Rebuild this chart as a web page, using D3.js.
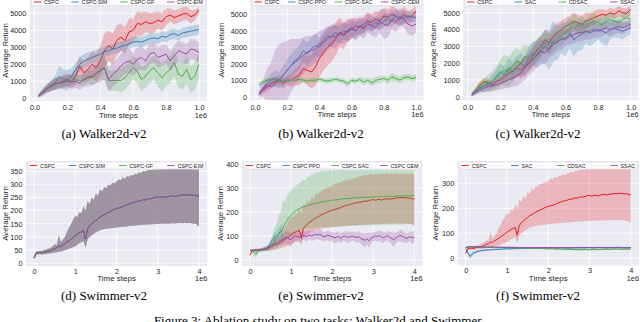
<!DOCTYPE html>
<html><head><meta charset="utf-8">
<script src="https://cdn.jsdelivr.net/npm/d3@7"></script>
<style>body{margin:0;background:#fff}svg{display:block}</style>
</head><body>
<svg id="c" width="640" height="322"></svg>
<script>
// ---------------- DATA ----------------
const walkerSteps = [0.025,0.05,0.075,0.1,0.125,0.15,0.175,0.2,0.225,0.25,0.275,0.3,0.325,0.35,0.375,0.4,0.425,0.45,0.475,0.5,0.525,0.55,0.575,0.6,0.625,0.65,0.675,0.7,0.725,0.75,0.775,0.8,0.825,0.85,0.875,0.9,0.925,0.95,0.975,1.0];
const swimSteps = [0,0.05,0.1,0.15,0.2,0.25,0.3,0.35,0.4,0.45,0.5,0.55,0.6,0.65,0.7,0.75,0.8,0.85,0.9,0.95,1,1.05,1.1,1.15,1.2,1.25,1.3,1.35,1.4,1.45,1.5,1.55,1.6,1.65,1.7,1.75,1.8,1.85,1.9,1.95,2,2.05,2.1,2.15,2.2,2.25,2.3,2.35,2.4,2.45,2.5,2.55,2.6,2.65,2.7,2.75,2.8,2.85,2.9,2.95,3,3.05,3.1,3.15,3.2,3.25,3.3,3.35,3.4,3.45,3.5,3.55,3.6,3.65,3.7,3.75,3.8,3.85,3.9,3.95,4];
const swimCoarseSteps = [0,0.1,0.2,0.3,0.4,0.5,0.6,0.7,0.8,0.9,1,1.1,1.2,1.3,1.4,1.5,1.6,1.7,1.8,1.9,2,2.1,2.2,2.3,2.4,2.5,2.6,2.7,2.8,2.9,3,3.1,3.2,3.3,3.4,3.5,3.6,3.7,3.8,3.9,4];
const ppoSteps = [0,0.05,0.1,0.15,0.2,0.25,0.3,0.35,0.4,0.45,0.5,0.55,0.6,0.65,0.7,0.75,0.8];

const legendA = ["CSPC","CSPC-SIM","CSPC-GF","CSPC-EIM"];
const legendB = ["CSPC","CSPC-PPO","CSPC-SAC","CSPC-CEM"];
const legendC = ["CSPC","SAC","CDSAC","SSAC"];
const legendE = ["CSPC","CSPC PPO","CSPC SAC","CSPC CEM"];
const captions = ["(a) Walker2d-v2","(b) Walker2d-v2","(c) Walker2d-v2","(d) Swimmer-v2","(e) Swimmer-v2","(f) Swimmer-v2"];
const figCaption = "Figure 3: Ablation study on two tasks: Walker2d and Swimmer.";
const walkerYTicks = [0,1000,2000,3000,4000,5000];
const walkerXTicks = [0,0.2,0.4,0.6,0.8,1.0];
const swimXTicks = [0,1,2,3,4];
const swimYTicksD = [0,50,100,150,200,250,300,350];
const swimYTicksE = [0,100,200,300,400];
const swimYTicksF = [0,100,200,300];

// (a) Walker2d
const aCspcMean = [150,350,550,700,850,900,1050,1100,1000,1300,1900,1500,1700,2000,1800,2200,2800,3100,2900,3400,3600,3400,3900,4000,4400,4350,4500,4400,4450,4600,4500,4800,4900,4750,4850,4950,5000,4800,4900,5200];
const aCspcSpread = [100,150,200,250,300,300,350,350,400,500,600,600,700,800,800,900,1000,900,900,900,800,800,800,700,700,700,600,600,600,500,500,500,400,400,400,400,400,400,300,200];
const aSimMean = [150,350,550,750,900,1300,1100,1050,1300,1700,2000,2200,2300,2400,2500,2600,2750,2800,2900,2950,3050,3100,3200,3300,3350,3300,3400,3500,3550,3500,3650,3600,3750,3800,3700,3850,3900,3950,4000,4050];
const aSimSpread = [80,150,200,300,400,600,600,600,450,400,400,400,400,350,350,350,300,300,300,300,300,300,300,300,300,300,300,300,300,300,300,300,300,300,300,300,300,300,300,300];
const aGfMean = [150,400,600,750,850,900,950,1000,1050,1100,1050,1100,1300,1200,1400,1700,1800,1050,1050,1050,1050,1200,1500,1800,1600,1100,1300,1600,1800,1500,1200,1500,1700,2100,1400,1300,1700,1100,1300,2000];
const aGfSpread = [100,200,250,300,350,350,300,300,300,300,300,350,400,400,500,600,700,600,600,600,700,700,700,700,700,700,700,700,700,800,800,800,800,800,800,800,800,800,800,800];
const aEimMean = [150,350,550,700,850,900,950,1000,950,1000,900,1100,1200,1300,1500,1600,1800,1100,1400,1600,1900,2100,2200,2000,2300,2400,2200,2600,2700,2400,2500,2600,2200,2500,2800,2700,2600,2900,2850,2700];
const aEimSpread = [100,200,250,300,350,350,350,350,400,400,400,450,500,550,600,650,700,700,700,700,700,700,700,700,700,700,600,600,600,600,600,600,600,600,600,600,600,600,600,600];

// (b) Walker2d
const bCspcMean = [150,400,600,800,900,1000,800,1000,1000,1200,1300,1700,1600,1500,1800,2300,2700,3000,3200,3500,3900,3700,4000,4100,4300,4200,4400,4600,4500,4700,4600,4900,4800,5000,4900,4700,5000,4800,4900,5200];
const bCspcSpread = [100,200,300,300,300,300,300,300,400,500,600,800,900,1000,1100,1100,1100,1100,1100,1000,900,800,700,600,500,500,500,500,500,500,500,500,500,500,500,500,500,400,400,300];
const bPpoMean = [200,500,800,1000,1100,1000,1300,1600,1900,2200,2400,2800,2600,2900,3100,3000,3400,3700,3600,3900,3700,4000,3900,4100,4000,4300,4200,4400,4300,4500,4400,4600,4700,4600,4900,4700,4800,4900,4850,4800];
const bPpoSpread = [100,200,300,400,500,500,600,700,700,700,700,700,700,700,700,600,600,600,600,500,500,500,500,500,500,400,400,400,400,400,400,400,400,400,400,400,400,300,300,300];
const bSacMean = [700,900,1000,1050,1000,950,1000,950,1000,1000,1050,1000,950,1000,1000,1050,1000,950,1000,1050,1000,950,800,1000,950,1050,900,1000,850,1000,1050,1100,1000,1200,1100,1000,1150,1200,1100,1150];
const bSacSpread = [150,150,150,100,150,150,150,150,150,150,150,150,150,150,150,150,150,150,150,150,150,150,200,150,150,150,200,150,200,200,200,200,200,250,200,200,200,200,200,200];
const bCemMean = [150,500,700,600,800,1000,1300,1600,1900,2100,2300,2500,2700,2800,2900,3200,3300,3500,3700,3600,3900,3800,4000,4200,4000,4300,4100,4500,4300,4200,4600,4400,4300,4700,4500,4900,4700,4400,4300,4400];
const bCemSpread = [200,500,1000,1500,2000,2200,2000,1800,1600,1400,1200,1100,1000,900,900,800,800,700,700,700,600,600,600,600,600,600,600,600,600,600,700,900,700,600,600,500,500,600,600,500];

// (c) Walker2d
const cCspcMean = [150,400,700,900,850,700,900,1000,1200,1400,1500,1700,1600,1800,2000,2400,2800,3000,3400,3200,3600,3800,4000,4200,4300,4500,4400,4300,4500,4600,4700,4800,4900,4850,5000,4900,5100,5000,4950,5200];
const cCspcSpread = [100,150,200,200,200,200,300,300,300,400,400,500,500,500,500,600,600,600,600,600,600,600,500,500,500,500,500,500,500,400,400,400,300,300,300,300,300,300,300,300];
const cSacMean = [100,300,500,600,700,900,1200,1500,1300,1700,1500,1800,2000,1800,2300,2600,2500,2800,3000,2800,3300,3200,3500,3400,3800,3400,3600,3700,3900,3800,3900,4000,3900,3800,4000,4050,4000,3900,4000,4100];
const cSacSpread = [100,150,200,300,300,400,400,500,500,600,600,600,600,600,700,700,800,900,1000,1200,1200,1000,900,1000,900,1000,900,900,700,800,700,600,700,800,600,500,500,500,400,400];
const cCdsacMean = [150,400,600,700,800,900,1100,1400,1600,1500,1800,2100,2000,2400,2300,2500,2700,3000,3200,3100,3300,3500,3600,3800,4000,4400,4200,4300,4100,4400,4500,4400,4300,4500,4600,4500,4400,4600,4700,4600];
const cCdsacSpread = [100,200,300,400,500,600,700,800,900,900,900,800,800,700,700,700,700,600,600,600,600,600,500,500,500,500,500,500,500,500,500,400,400,400,400,400,400,400,400,400];
const cSsacMean = [100,250,400,500,600,650,700,800,900,1000,1100,1200,1400,1700,2000,2200,2500,2700,2600,2900,3100,3300,3400,3500,3600,3700,3800,3800,3900,3900,4000,3900,4000,4100,4000,4100,4200,4100,4200,4300];
const cSsacSpread = [100,150,200,250,300,300,300,400,400,500,500,600,600,700,700,700,700,700,700,600,600,600,600,500,500,500,500,500,500,500,500,400,400,400,400,400,400,400,300,300];

// Swimmer: CSPC (shared by d, e, f)
const swCspcMean = [20,38,40,41,40,43,44,46,47,52,56,58,66,63,70,75,80,86,92,98,105,110,116,119,124,92,132,142,150,157,163,170,174,180,184,190,193,197,201,205,208,210,212,215,218,222,225,228,230,232,235,237,238,242,240,244,246,245,248,250,252,249,251,253,250,252,254,256,253,255,256,258,260,258,261,259,260,257,259,254,255];
const swCspcHi = [25,45,46,48,47,50,52,55,58,64,72,68,105,80,90,100,120,135,150,165,180,175,195,190,215,200,235,225,250,240,265,255,280,272,288,285,298,296,305,303,310,318,315,325,320,330,328,335,332,340,338,345,342,350,348,352,355,353,356,355,358,356,358,357,359,358,360,359,358,360,359,360,358,359,360,358,359,360,358,359,360];
const swCspcLo = [15,32,34,34,33,35,36,37,37,39,40,42,44,45,47,50,52,55,58,62,65,70,76,80,85,60,92,100,106,112,118,122,125,128,130,131,132,133,134,135,136,137,138,139,139,140,141,142,142,143,144,144,145,146,146,147,147,148,148,149,149,150,150,150,151,150,151,152,151,152,152,153,152,153,152,153,152,151,150,147,140];

// (e) Swimmer
const ePpoMean = [40,38,40,40,42,42,43,45,48,55,70,85,95,100,110,120,125];
const ePpoSpread = [3,4,4,4,5,5,5,6,8,10,14,18,20,22,24,26,28];
const eSacMean = [38,40,30,25,38,40,42,44,45,48,55,65,80,90,105,118,132,150,165,178,187,195,203,208,214,218,222,225,228,230,232,235,236,238,240,242,243,245,246,248,249,250,252,251,253,255,254,256,257,256,258,259,260,259,261,260,262,261,262,263,262,263,264,263,265,264,265,266,265,266,265,266,267,266,267,268,267,268,267,268,270];
const eSacHi = [45,48,42,40,45,48,50,53,56,62,75,100,140,150,185,200,250,240,270,280,290,300,305,315,320,325,335,330,350,345,360,355,368,362,370,372,368,375,370,376,372,375,370,376,373,378,372,375,371,377,374,372,376,373,378,374,371,376,373,377,372,375,378,373,376,372,377,374,371,376,373,378,374,371,376,373,377,372,375,373,376];
const eSacLo = [32,33,15,12,30,33,35,36,36,38,40,42,45,50,55,62,70,80,90,98,104,110,115,118,122,125,127,129,131,132,133,134,135,136,136,137,137,138,138,139,139,140,140,140,141,141,141,142,142,142,143,143,143,144,144,144,144,145,145,145,145,146,146,146,146,147,147,147,147,148,148,148,148,148,149,149,149,149,150,150,150];
const eCemMean = [40,40,41,42,42,43,44,45,46,50,55,60,68,72,78,82,88,92,95,88,84,95,100,98,94,100,102,98,100,104,100,103,106,104,108,102,97,100,103,99,98,92,95,98,90,96,100,97,94,98,100,96,94,97,90,85,82,88,80,92,96,100,98,102,97,93,98,101,96,90,84,92,98,102,100,95,90,94,98,92,96];
const eCemSpread = [3,3,3,4,4,4,5,5,6,8,10,12,14,16,18,20,22,24,25,28,30,22,20,24,22,20,18,20,22,18,20,22,18,20,24,22,20,18,22,20,18,22,24,20,22,18,20,22,24,20,18,22,20,24,22,26,28,24,30,22,20,18,22,20,24,22,18,20,22,26,28,22,20,24,26,22,20,18,22,24,26];

// (f) Swimmer
const fSacMean = [38,8,22,28,31,33,34,35,36,37,38,38,39,39,40,40,40,41,40,41,41,42,41,42,42,41,42,42,43,42,43,42,43,43,42,43,43,44,43,43,43];
const fSacSpread = [3,10,7,5,4,4,3,3,3,3,3,3,3,3,3,3,3,3,3,3,3,3,3,3,3,3,3,3,3,3,3,3,3,3,3,3,3,3,3,3,3];
const fCdsacMean = [42,46,45,45,44,44,44,43,43,43,42,42,42,41,41,41,40,40,40,39,38,38,37,37,36,36,35,35,34,35,34,35,35,36,36,36,37,37,36,37,37];
const fCdsacSpread = [3,3,3,3,3,3,3,3,3,3,3,3,3,3,3,3,3,3,3,3,3,3,3,3,3,3,3,3,3,3,3,3,3,3,3,3,3,3,3,3,3];
const fSsacMean = [44,47,46,46,45,45,45,45,44,44,44,44,44,43,43,43,43,43,43,43,43,43,42,43,43,42,43,43,42,43,43,42,43,43,42,43,42,43,42,42,42];
const fSsacSpread = [2.5,2.5,2.5,2.5,2.5,2.5,2.5,2.5,2.5,2.5,2.5,2.5,2.5,2.5,2.5,2.5,2.5,2.5,2.5,2.5,2.5,2.5,2.5,2.5,2.5,2.5,2.5,2.5,2.5,2.5,2.5,2.5,2.5,2.5,2.5,2.5,2.5,2.5,2.5,2.5,2.5];

// ---------------- STYLE / LAYOUT ----------------
const COLORS = ["#e41a1c","#377eb8","#4daf4a","#984ea3"];
const SANS = "'Liberation Sans', Arial, sans-serif";
const SERIF = "'Liberation Serif', 'Times New Roman', serif";
const TXT = "#262626";

const wfmt = d3.format(".1f"), sfmt = d3.format("d");
const S = (x, mean, o) => Object.assign({x, mean}, o);

const panels = [
  {key:"a", f:{l:29.7,r:207,t:-2.5,b:100.8}, xd:[0,1], xr:[34.5,199], yd:[0,5000], yr:[98.3,13.3],
   xt:walkerXTicks, xf:wfmt, yt:walkerYTicks, ylx:5, row:0, cap:captions[0], capx:104, legend:legendA,
   series:[S(walkerSteps,aCspcMean,{spread:aCspcSpread}),S(walkerSteps,aSimMean,{spread:aSimSpread}),S(walkerSteps,aGfMean,{spread:aGfSpread}),S(walkerSteps,aEimMean,{spread:aEimSpread})]},
  {key:"b", f:{l:250.3,r:423.5,t:-2.5,b:100}, xd:[0,1], xr:[255,416], yd:[0,5000], yr:[96.7,14.3],
   xt:walkerXTicks, xf:wfmt, yt:walkerYTicks, ylx:221.7, row:0, cap:captions[1], capx:321, legend:legendB,
   series:[S(walkerSteps,bCspcMean,{spread:bCspcSpread}),S(walkerSteps,bPpoMean,{spread:bPpoSpread}),S(walkerSteps,bSacMean,{spread:bSacSpread}),S(walkerSteps,bCemMean,{spread:bCemSpread})]},
  {key:"c", f:{l:463,r:638.7,t:-2.5,b:100}, xd:[0,1], xr:[467.7,630.7], yd:[0,5000], yr:[96.7,12.7],
   xt:walkerXTicks, xf:wfmt, yt:walkerYTicks, ylx:433, row:0, cap:captions[2], capx:538, legend:legendC,
   series:[S(walkerSteps,cCspcMean,{spread:cCspcSpread}),S(walkerSteps,cSacMean,{spread:cSacSpread}),S(walkerSteps,cCdsacMean,{spread:cCdsacSpread}),S(walkerSteps,cSsacMean,{spread:cSsacSpread})]},
  {key:"d", f:{l:25.8,r:207.3,t:161,b:266}, xd:[0,4], xr:[34,199], yd:[0,350], yr:[263.3,171],
   xt:swimXTicks, xf:sfmt, yt:swimYTicksD, ylx:5, row:1, cap:captions[3], capx:104, legend:legendA,
   series:[0,1,2,3].map(()=>S(swimSteps,swCspcMean,{lo:swCspcLo,hi:swCspcHi}))},
  {key:"e", f:{l:241.8,r:422.5,t:161,b:266}, xd:[0,4], xr:[250,414.3], yd:[0,400], yr:[260,164],
   xt:swimXTicks, xf:sfmt, yt:swimYTicksE, ylx:220, row:1, cap:captions[4], capx:321, legend:legendE,
   series:[S(swimSteps,swCspcMean,{lo:swCspcLo,hi:swCspcHi}),S(ppoSteps,ePpoMean,{spread:ePpoSpread}),S(swimSteps,eSacMean,{lo:eSacLo,hi:eSacHi}),S(swimSteps,eCemMean,{spread:eCemSpread})]},
  {key:"f", f:{l:457.5,r:639,t:161,b:265.5}, xd:[0,4], xr:[465.7,630.7], yd:[0,300], yr:[258.3,183.3],
   xt:swimXTicks, xf:sfmt, yt:swimYTicksF, ylx:435, row:1, cap:captions[5], capx:538, legend:legendC,
   series:[S(swimSteps,swCspcMean,{lo:swCspcLo,hi:swCspcHi}),S(swimCoarseSteps,fSacMean,{spread:fSacSpread}),S(swimCoarseSteps,fCdsacMean,{spread:fCdsacSpread}),S(swimCoarseSteps,fSsacMean,{spread:fSsacSpread})]}
];
const rowCfg = [
  {tickBase:9.5, labelBase:17.3, capY:138},
  {tickBase:7.5, labelBase:15.0, capY:299.5}
];

const svg = d3.select("#c");
const defs = svg.append("defs");

panels.forEach(p => {
  const f = p.f, rc = rowCfg[p.row];
  const xs = d3.scaleLinear().domain(p.xd).range(p.xr);
  const ys = d3.scaleLinear().domain(p.yd).range(p.yr);
  const g = svg.append("g");
  g.append("rect").attr("x",f.l).attr("y",f.t).attr("width",f.r-f.l).attr("height",f.b-f.t).attr("fill","#EAEAF2");
  g.selectAll(null).data(p.xt).enter().append("line")
    .attr("x1",d=>xs(d)).attr("x2",d=>xs(d)).attr("y1",f.t).attr("y2",f.b)
    .attr("stroke","#fff").attr("stroke-width",0.8);
  g.selectAll(null).data(p.yt).enter().append("line")
    .attr("y1",d=>ys(d)).attr("y2",d=>ys(d)).attr("x1",f.l).attr("x2",f.r)
    .attr("stroke","#fff").attr("stroke-width",0.8);

  defs.append("clipPath").attr("id","clip-"+p.key).append("rect")
    .attr("x",f.l).attr("y",f.t).attr("width",f.r-f.l).attr("height",f.b-f.t);
  const plot = g.append("g").attr("clip-path",`url(#clip-${p.key})`);

  p.series.forEach((s,si) => {
    const pts = s.x.map((x,i) => ({
      x, m:s.mean[i],
      lo: s.lo ? s.lo[i] : s.mean[i]-s.spread[i],
      hi: s.hi ? s.hi[i] : s.mean[i]+s.spread[i]
    }));
    plot.append("path").datum(pts)
      .attr("d", d3.area().x(d=>xs(d.x)).y0(d=>ys(d.lo)).y1(d=>ys(d.hi)))
      .attr("fill",COLORS[si]).attr("fill-opacity",0.25).attr("stroke","none");
    plot.append("path").datum(pts)
      .attr("d", d3.line().x(d=>xs(d.x)).y(d=>ys(d.m)))
      .attr("fill","none").attr("stroke",COLORS[si]).attr("stroke-width",1).attr("stroke-linejoin","round");
  });

  // axes
  const fs = 7.3;
  const xa = g.append("g").attr("transform",`translate(0,${f.b})`)
    .call(d3.axisBottom(xs).tickValues(p.xt).tickFormat(p.xf).tickSize(0).tickPadding(rc.tickBase - 0.71*fs));
  const ya = g.append("g").attr("transform",`translate(${f.l},0)`)
    .call(d3.axisLeft(ys).tickValues(p.yt).tickFormat(d3.format("d")).tickSize(0).tickPadding(3.3));
  [xa,ya].forEach(a => {
    a.select(".domain").remove();
    a.selectAll("text").attr("font-family",SANS).attr("font-size",fs).attr("fill",TXT);
  });

  g.append("text").attr("x",(f.l+f.r)/2).attr("y",f.b+rc.labelBase)
    .attr("text-anchor","middle").attr("font-family",SANS).attr("font-size",8).attr("fill",TXT).text("Time steps");
  g.append("text").attr("x",f.r).attr("y",f.b+rc.labelBase)
    .attr("text-anchor","end").attr("font-family",SANS).attr("font-size",7.3).attr("fill",TXT).text("1e6");
  g.append("text").attr("transform",`translate(${p.ylx},${(Math.max(f.t,0)+f.b)/2}) rotate(-90)`)
    .attr("text-anchor","middle").attr("dominant-baseline","central")
    .attr("font-family",SANS).attr("font-size",7.8).attr("fill",TXT).text("Average Return");

  // legend
  const lx0 = f.l+1.5, lx1 = f.r-1.5, ly0 = f.t+0.8, lh = 7.4;
  const lg = g.append("g");
  lg.append("rect").attr("x",lx0).attr("y",ly0).attr("width",lx1-lx0).attr("height",lh)
    .attr("rx",1.5).attr("fill","#fff").attr("fill-opacity",0.8).attr("stroke","#cccccc").attr("stroke-width",0.5);
  const lfs = 5.3, hl = 7.5, hp = 2.8, pad = 2.5;
  const items = p.legend.map((t,i) => {
    const ig = lg.append("g");
    ig.append("line").attr("x1",0).attr("x2",hl).attr("y1",0).attr("y2",0).attr("stroke",COLORS[i]).attr("stroke-width",0.9);
    const tx = ig.append("text").attr("x",hl+hp).attr("y",0).attr("dominant-baseline","central")
      .attr("font-family",SANS).attr("font-size",lfs).attr("fill",TXT).text(t);
    return {ig, w: hl+hp+tx.node().getComputedTextLength()};
  });
  const tot = d3.sum(items, d=>d.w);
  const gap = ((lx1-lx0) - 2*pad - tot)/(items.length-1);
  let cx = lx0 + pad;
  items.forEach(it => { it.ig.attr("transform",`translate(${cx},${ly0+lh/2})`); cx += it.w + gap; });

  // sub-caption
  svg.append("text").attr("x",p.capx).attr("y",rc.capY).attr("text-anchor","middle")
    .attr("font-family",SERIF).attr("font-size",13).attr("fill","#000").text(p.cap);
});

svg.append("text").attr("x",319).attr("y",324.5).attr("text-anchor","middle")
  .attr("font-family",SERIF).attr("font-size",13).attr("fill","#000").text(figCaption);
</script>
</body></html>
